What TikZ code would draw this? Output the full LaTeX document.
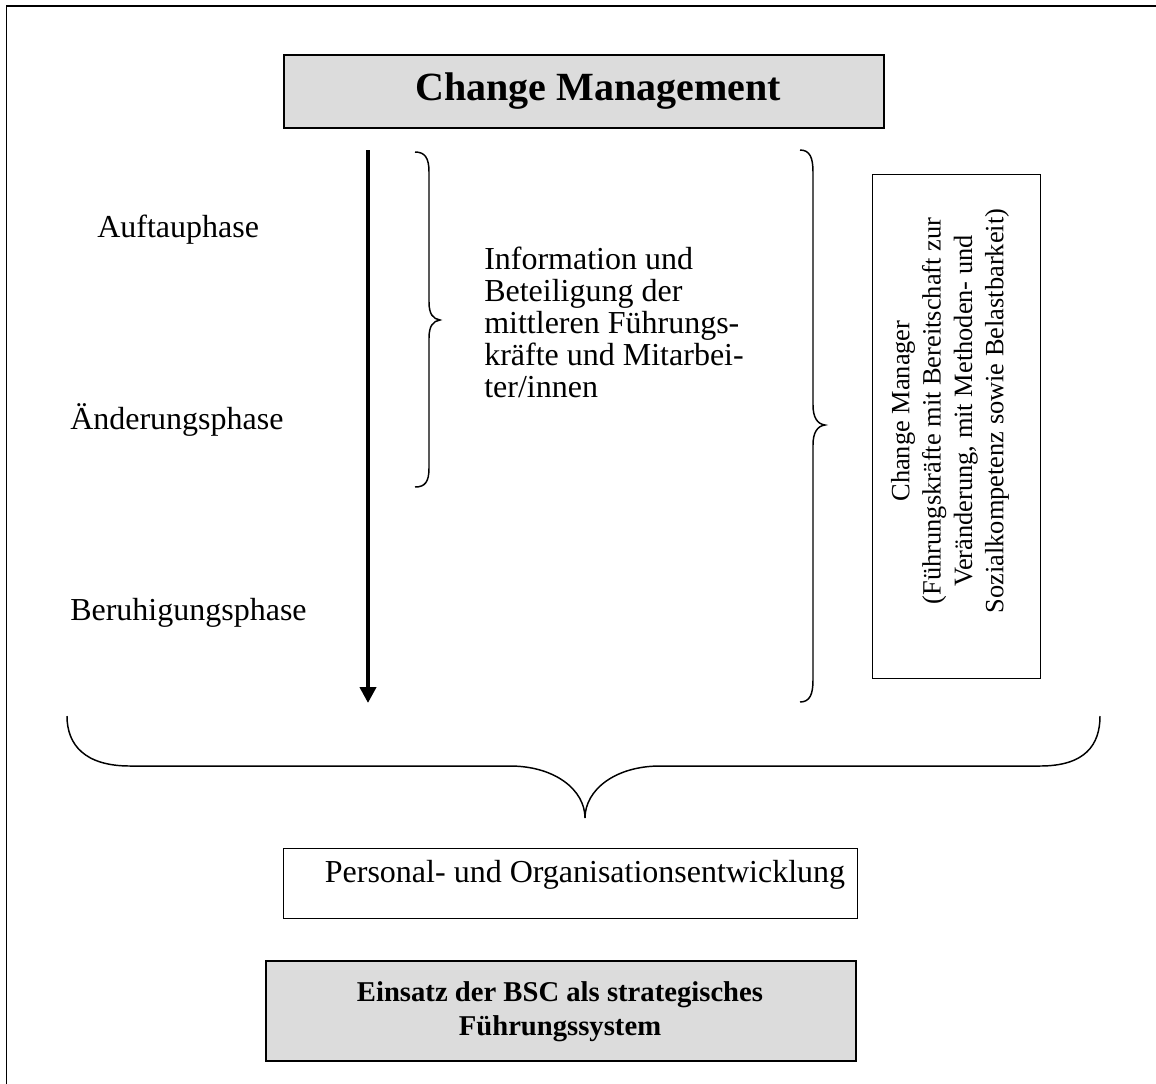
\documentclass[tikz,border=0pt]{standalone}
\usepackage{fontspec}
\setmainfont{Liberation Serif}
\usetikzlibrary{arrows.meta}
\definecolor{boxgray}{RGB}{220,220,220}
\begin{document}
\begin{tikzpicture}[x=0.75pt,y=-0.75pt,
  frameline/.style={line width=1.4pt},
  graybox/.style={draw, line width=1.5pt, fill=boxgray, inner sep=0pt},
  plainbox/.style={draw, line width=1.1pt, inner sep=0pt},
  bracket/.style={line width=1.1pt},
  body/.style={font=\fontsize{24}{24}\selectfont, inner sep=0pt},
  ]
\useasboundingbox (0,0) rectangle (1156,1083);
\clip (0,0) rectangle (1156,1083);

% outer frame (runs off the page on the right and bottom)
\draw[frameline] (6.5,6) rectangle (1200,1200);

% title
\node[graybox, anchor=north west, minimum width=450pt, minimum height=54.5pt] (titlebox) at (283,54) {};
\node[inner sep=0pt, font=\fontsize{30}{30}\selectfont\bfseries] (title) at (598,91) {Change Management};

% phase arrow
\coordinate (atop) at (368,150);
\coordinate (abot) at (368,703);
\draw[line width=3pt, -{Triangle[length=12pt,width=12pt]}] (atop) -- (abot);

% phase labels
\node[body, anchor=base west] (p1) at (97,237) {Auftauphase};
\node[body, anchor=base west] (p2) at (70,429) {Änderungsphase};
\node[body, anchor=base west] (p3) at (70,620) {Beruhigungsphase};

% small brace
\draw[bracket] (415,152) .. controls (425,152) and (429,158) .. (429,172)
  -- (429,302) .. controls (429,314) and (433,319) .. (440,320)
  .. controls (433,321) and (429,326) .. (429,338)
  -- (429,468) .. controls (429,482) and (425,487) .. (415,487);

% information text
\node[body, anchor=north west, align=left] (info) at (484,247)
  {Information und\\Beteiligung der\\mittleren Führungs-\\kräfte und Mitarbei-\\ter/innen};

% large brace
\draw[bracket] (800,150) .. controls (810,150) and (813,158) .. (813,172)
  -- (813,405) .. controls (813,417) and (817,424) .. (825,425)
  .. controls (817,426) and (813,433) .. (813,445)
  -- (813,680) .. controls (813,694) and (810,702) .. (800,702);

% change manager box
\node[plainbox, anchor=north west, minimum width=126pt, minimum height=378pt] (cmbox) at (872,174) {};
\node[inner sep=0pt, rotate=90, align=center, font=\fontsize{19.8}{23.5}\selectfont] (cm) at (950,411)
  {Change Manager\\(Führungskräfte mit Bereitschaft zur\\Veränderung, mit Methoden- und\\Sozialkompetenz sowie Belastbarkeit)};

% bottom brace
\draw[bracket] (67,716) .. controls (67,745) and (85,766) .. (130,766)
  -- (510,766) .. controls (555,766) and (585,790) .. (585,818)
  .. controls (585,790) and (615,766) .. (660,766)
  -- (1040,766) .. controls (1085,766) and (1100,745) .. (1100,716);

% personnel and organisational development
\node[plainbox, anchor=north west, minimum width=430.5pt, minimum height=52.5pt] (pobox) at (283,848) {};
\node[body] (po) at (585,875) {Personal- und Organisationsentwicklung};

% BSC box
\node[graybox, anchor=north west, minimum width=442.5pt, minimum height=75pt] (bscbox) at (265,960) {};
\node[inner sep=0pt, align=center, font=\fontsize{21.5}{25.5}\selectfont\bfseries] (bsc) at (560,1012)
  {Einsatz der BSC als strategisches\\Führungssystem};
\end{tikzpicture}
\end{document}
